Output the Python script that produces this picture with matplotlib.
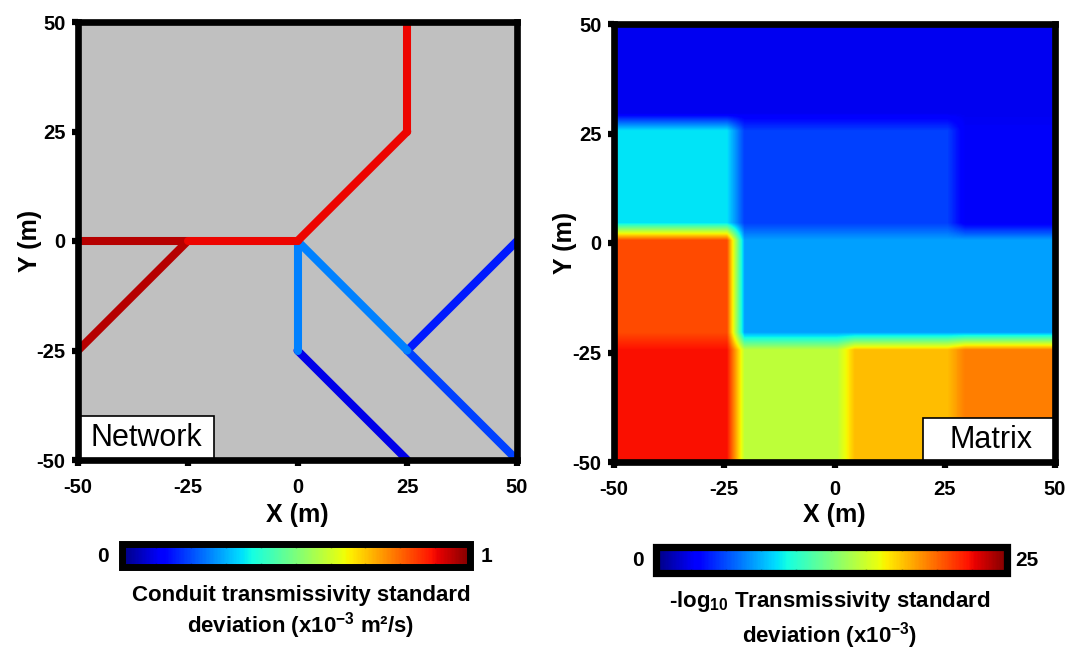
import numpy as np
import matplotlib
matplotlib.use("Agg")
import matplotlib.pyplot as plt
from matplotlib.collections import LineCollection
from matplotlib.patches import Rectangle
from matplotlib.colors import Normalize
from matplotlib.cm import ScalarMappable

plt.rcParams['font.family'] = ['Liberation Sans', 'DejaVu Sans']
NARROW = ['Liberation Sans Narrow', 'Liberation Sans', 'DejaVu Sans']

# ---------------- data ----------------
# Network panel: conduit segments (x0, y0, x1, y1) and std values (x1e-3 m2/s)
conduit_x0 = [0, 0, 25, 25, 0, -50, -50, -25, 0, 25]
conduit_y0 = [-25, 0, -25, -25, 0, -25, 0, 0, 0, 25]
conduit_x1 = [25, 0, 50, 50, 25, -25, -25, 0, 25, 25]
conduit_y1 = [-50, -25, 0, -50, -25, 0, 0, 0, 25, 50]
conduit_std = [0.09, 0.25, 0.15, 0.19, 0.25, 0.95, 0.95, 0.905, 0.905, 0.905]

# Matrix panel: block grid (edges in m) and -log10 T std values (x1e-3), rows bottom->top
matrix_x_edges = [-50, -22.5, 2.5, 27.5, 50]
matrix_y_edges = [-50, -22.5, 2.5, 27.5, 50]
matrix_row1 = [22.3, 14.5, 17.7, 19.4]   # y -50 .. -22.5
matrix_row2 = [20.8, 7.1, 7.1, 7.1]      # y -22.5 .. 2.5
matrix_row3 = [8.7, 4.7, 4.7, 2.7]       # y 2.5 .. 27.5
matrix_row4 = [2.5, 2.5, 2.5, 2.5]       # y 27.5 .. 50

ticks = [-50, -25, 0, 25, 50]
tick_labels = ['-50', '-25', '0', '25', '50']

# ---------------- figure ----------------
W, H = 1070, 650
fig = plt.figure(figsize=(W / 100, H / 100), dpi=100)


def px(x0, y0, x1, y1):
    return [x0 / W, 1 - y1 / H, (x1 - x0) / W, (y1 - y0) / H]


def style_axes(ax, xlab_y, ylab_x):
    ax.set_xlim(-50, 50)
    ax.set_ylim(-50, 50)
    ax.set_xticks(ticks)
    ax.set_yticks(ticks)
    ax.set_xticklabels(tick_labels)
    ax.set_yticklabels(tick_labels)
    for s in ax.spines.values():
        s.set_linewidth(4.8)
        s.set_color('black')
        s.set_zorder(10)
    ax.tick_params(direction='out', length=4, width=4.5, labelsize=14.5,
                   top=False, right=False)
    ax.tick_params(axis='x', pad=9)
    ax.tick_params(axis='y', pad=5)
    for lab in ax.get_xticklabels() + ax.get_yticklabels():
        lab.set_fontweight('bold')
    ax.set_xlabel('X (m)', fontsize=18, fontweight='bold')
    ax.set_ylabel('Y (m)', fontsize=18, fontweight='bold')
    ax.xaxis.set_label_coords(0.5, xlab_y)
    ax.xaxis.label.set_verticalalignment('center')
    ax.yaxis.set_label_coords(ylab_x, 0.5)
    ax.yaxis.label.set_verticalalignment('center')


cmap = plt.get_cmap('jet')

# ---- left: network ----
ax1 = fig.add_axes(px(78, 22, 517, 460))
ax1.set_facecolor('#c0c0c0')
segs = [[(a, b), (c, d)] for a, b, c, d in zip(conduit_x0, conduit_y0, conduit_x1, conduit_y1)]
lc = LineCollection(segs, cmap=cmap, norm=Normalize(0, 1), linewidths=5.8,
                    capstyle='round', joinstyle='round', zorder=2)
lc.set_array(np.array(conduit_std))
ax1.add_collection(lc)
style_axes(ax1, -(515 - 460) / 438, (30 - 78) / 439)
ax1.add_patch(Rectangle((-50, -50), 31, 10, facecolor='white', edgecolor='black',
                        lw=1.2, zorder=5))
ax1.text(-34.5, -45, 'Network', ha='center', va='center', fontsize=22, zorder=6)

# ---- right: matrix ----
ax2 = fig.add_axes(px(614, 24, 1055, 462))
res = 0.25
g = np.arange(-50 + res / 2, 50, res)
GX, GY = np.meshgrid(g, g)
vals = np.array([matrix_row1, matrix_row2, matrix_row3, matrix_row4])
ci = np.clip(np.searchsorted(matrix_x_edges, GX) - 1, 0, 3)
ri = np.clip(np.searchsorted(matrix_y_edges, GY) - 1, 0, 3)
field = vals[ri, ci]
# smooth the block boundaries (box blur, ~4 m wide)
k = int(4.0 / res)
kern = np.ones(k) / k
pad = k
fp = np.pad(field, pad, mode='edge')
fp = np.apply_along_axis(lambda r: np.convolve(r, kern, mode='same'), 1, fp)
fp = np.apply_along_axis(lambda r: np.convolve(r, kern, mode='same'), 0, fp)
field_s = fp[pad:-pad, pad:-pad]
ax2.imshow(field_s, origin='lower', extent=[-50, 50, -50, 50], cmap=cmap,
           vmin=0, vmax=25, interpolation='bilinear', aspect='auto', zorder=1)
style_axes(ax2, -(515 - 462) / 438, (565 - 614) / 441)
ax2.add_patch(Rectangle((20, -50), 30, 10, facecolor='white', edgecolor='black',
                        lw=1.2, zorder=5))
ax2.text(35.5, -45, 'Matrix', ha='center', va='center', fontsize=22, zorder=6)


# ---- colorbars ----
def make_cbar(rect, vmax, lw, nt):
    cax = fig.add_axes(px(*rect))
    sm = ScalarMappable(norm=Normalize(0, vmax), cmap=cmap)
    cb = fig.colorbar(sm, cax=cax, orientation='horizontal')
    cb.outline.set_linewidth(lw)
    cb.outline.set_edgecolor('black')
    cb.set_ticks(np.linspace(0, vmax, nt + 1)[1:-1])
    cb.ax.set_xticklabels([])
    cb.ax.tick_params(direction='in', length=3, width=1, color=(0, 0, 0, 0.3),
                      top=True, bottom=True, labelbottom=False)
    return cb


make_cbar((121.5, 544, 470, 567), 1, 5.0, 10)
make_cbar((655.5, 546.5, 1007, 572.5), 25, 5.2, 10)

tf = dict(ha='center', va='center', fontweight='bold', family=NARROW)
fig.text(103 / W, 1 - 556 / H, '0', fontsize=15, **tf)
fig.text(487 / W, 1 - 556 / H, '1', fontsize=15, **tf)
fig.text(638 / W, 1 - 560 / H, '0', fontsize=15, **tf)
fig.text(1027 / W, 1 - 560 / H, '25', fontsize=15, **tf)

fig.text(301 / W, 1 - 596 / H, 'Conduit transmissivity standard', fontsize=16, **tf)
fig.text(301 / W, 1 - 626 / H, r'deviation (x10$\mathregular{^{-3}}$ m²/s)', fontsize=16, **tf)
fig.text(830 / W, 1 - 602 / H, r'-log$\mathregular{_{10}}$ Transmissivity standard', fontsize=16, **tf)
fig.text(830 / W, 1 - 636 / H, r'deviation (x10$\mathregular{^{-3}}$)', fontsize=16, **tf)

fig.savefig('out.png', dpi=100, facecolor='white')
